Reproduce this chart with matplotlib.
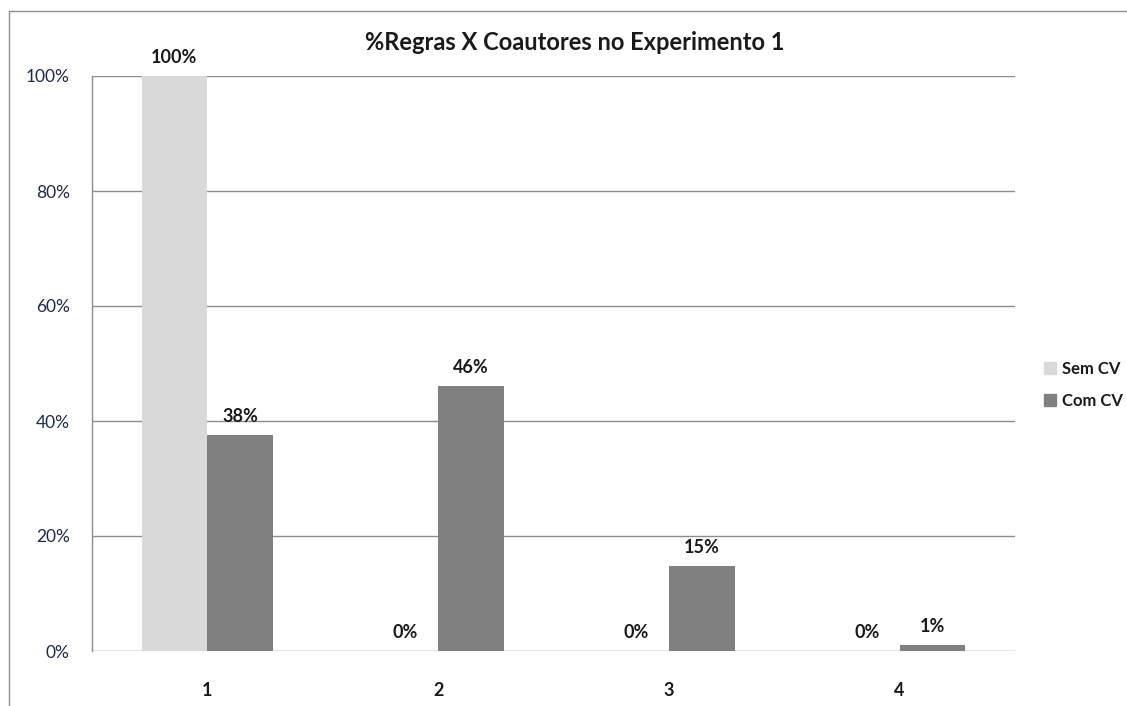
import matplotlib
matplotlib.use("Agg")
import matplotlib.pyplot as plt
import numpy as np
from matplotlib.patches import Rectangle, Patch

categories = ["1", "2", "3", "4"]
sem_cv = [100, 0, 0, 0]
com_cv = [37.6, 46.1, 14.8, 1.0]
sem_labels = ["100%", "0%", "0%", "0%"]
com_labels = ["38%", "46%", "15%", "1%"]
series_names = ["Sem CV", "Com CV"]
yticks = [0, 20, 40, 60, 80, 100]

plt.rcParams['font.family'] = ['Lato', 'DejaVu Sans']

W, H = 1127, 706
fig = plt.figure(figsize=(W/100, H/100), dpi=100)
ax = fig.add_axes([92/W, 1-651/H, (1015-92)/W, (651-76)/H])

x = np.arange(len(categories))
bw = 0.285
c_sem = "#d9d9d9"
c_com = "#808080"
b1 = ax.bar(x - bw/2, sem_cv, bw, color=c_sem, zorder=3)
b2 = ax.bar(x + bw/2, com_cv, bw, color=c_com, zorder=3)

for bars, labels in ((b1, sem_labels), (b2, com_labels)):
    for r, lab in zip(bars, labels):
        ax.annotate(lab, (r.get_x() + r.get_width()/2, r.get_height()),
                    xytext=(0, 13.5), textcoords="offset points",
                    ha="center", va="center", fontsize=13, fontweight="bold",
                    color="#1a1a1a", annotation_clip=False)

ax.set_xlim(-0.5, len(categories) - 0.5)
ax.set_ylim(0, 100)
ax.set_yticks(yticks)
ax.set_yticklabels([f"{v}%" for v in yticks], fontsize=12.5, color="#1f2a44")
ax.set_xticks(x)
ax.set_xticklabels(categories, fontsize=13, fontweight="bold", color="#1a1a1a")
ax.tick_params(axis="both", length=0)
ax.tick_params(axis="y", pad=16)
ax.tick_params(axis="x", pad=22)
ax.grid(axis="y", color="#8c8c8c", linewidth=1.0, zorder=0)
ax.set_axisbelow(True)
for s in ["top", "right", "bottom"]:
    ax.spines[s].set_visible(False)
ax.spines["left"].set_color("#8c8c8c")
ax.spines["left"].set_linewidth(1.0)

fig.text(575/W, 1-42/H, "%Regras X Coautores no Experimento 1",
         ha="center", va="center", fontsize=17, fontweight="bold", color="#1a1a1a")

handles = [Patch(color=c_sem), Patch(color=c_com)]
leg = fig.legend(handles, series_names, loc="upper left",
                 bbox_to_anchor=(1029/W, 1-346/H), frameon=False,
                 prop={"size": 12, "weight": "bold"}, handlelength=0.7,
                 handleheight=0.7, handletextpad=0.35, labelspacing=0.95)
for t in leg.get_texts():
    t.set_color("#1a1a1a")

fig.patches.append(Rectangle((9/W, -0.1), 1.2, 1.1-11/H, transform=fig.transFigure,
                             fill=False, edgecolor="#8c8c8c", linewidth=1.0))

fig.savefig("out.png", dpi=100)
